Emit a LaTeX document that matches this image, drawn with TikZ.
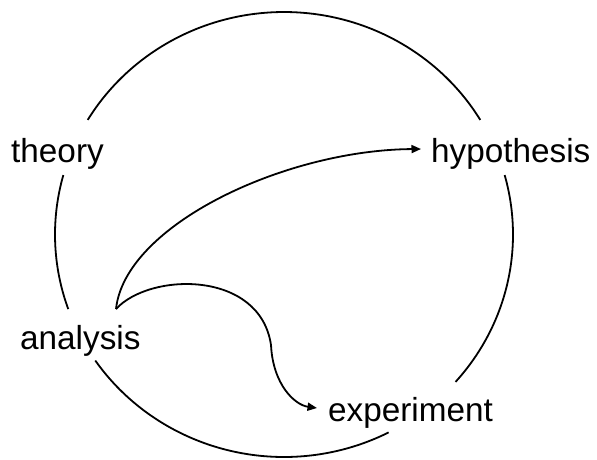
\documentclass[tikz,border=0pt]{standalone}
\usepackage{fontspec}
\setmainfont{Liberation Sans}
\usetikzlibrary{arrows.meta}
\begin{document}
\begin{tikzpicture}[x=1pt,y=-1pt,
  lbl/.style={inner sep=0pt,anchor=base west,font=\fontsize{33.3}{40}\selectfont},
  ring/.style={line width=1.8pt,black},
  flow/.style={line width=1.8pt,black,-{Triangle[length=9.5pt,width=8pt]}}]
\useasboundingbox (0,0) rectangle (597,459);
% labels
\node[lbl] (theory) at (11,162) {theory};
\node[lbl] (hyp) at (431,162) {hypothesis};
\node[lbl] (ana) at (20,349.5) {analysis};
\node[lbl] (exp) at (328,421.5) {experiment};
% circle arcs with gaps around the labels
\def\cx{284}\def\cy{234.5}\def\rx{229}\def\ry{222.5}
\draw[ring] plot[domain=31:149,samples=80,smooth] ({\cx+\rx*cos(\x)},{\cy-\ry*sin(\x)});
\draw[ring] plot[domain=-41.5:15.5,samples=40,smooth] ({\cx+\rx*cos(\x)},{\cy-\ry*sin(\x)});
\draw[ring] plot[domain=214.5:297.2,samples=60,smooth] ({\cx+\rx*cos(\x)},{\cy-\ry*sin(\x)});
\draw[ring] plot[domain=164.5:199.6,samples=30,smooth] ({\cx+\rx*cos(\x)},{\cy-\ry*sin(\x)});
% arrows
\coordinate (src) at (116,309);
\coordinate (tipH) at (421,149);
\coordinate (mid) at (271,345);
\coordinate (tipE) at (317,408);
\draw[flow] (src) .. controls (125,225) and (285,150) .. (tipH);
\draw[flow] (src) .. controls (150,272) and (260,270) .. (mid)
                 .. controls (273,385) and (295,405) .. (tipE);
\end{tikzpicture}
\end{document}
